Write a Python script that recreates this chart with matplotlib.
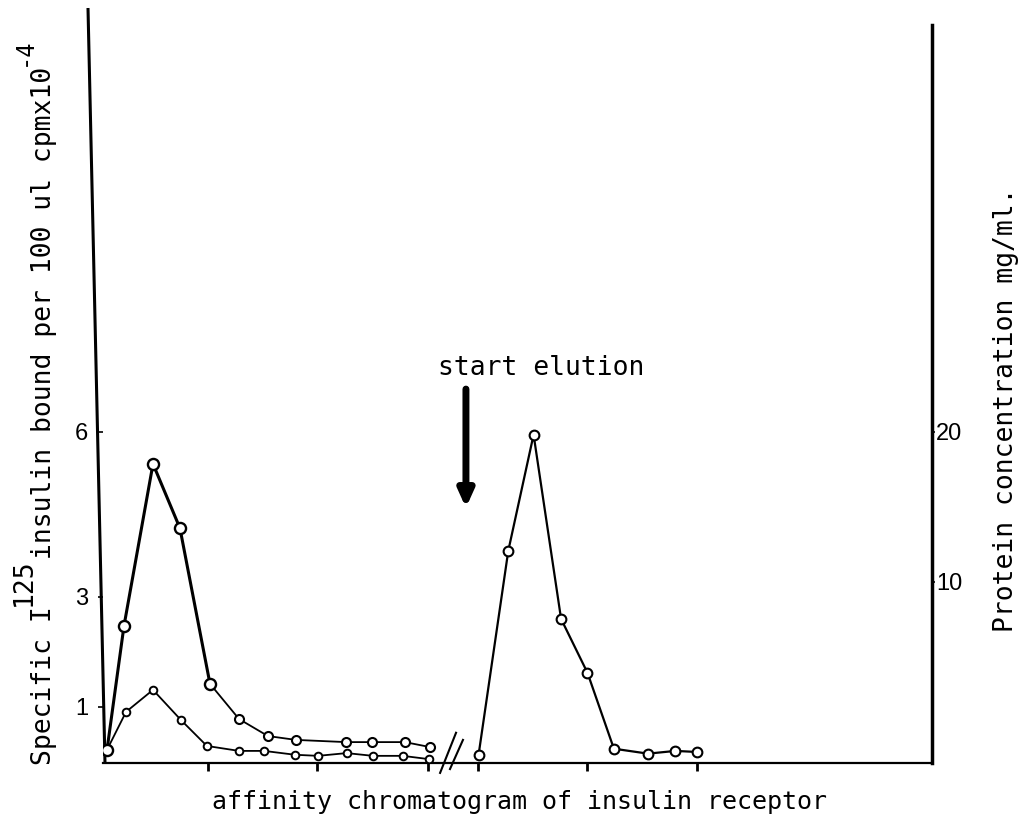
import matplotlib
matplotlib.use("Agg")
import matplotlib.pyplot as plt

# ---------------- data ----------------
# fraction positions in axis units (tick marks every 10 units)
x_protein_wash = [0.82, 2.36, 5.0, 7.45, 10.18, 12.82, 15.45, 18.0, 22.55, 24.9, 27.9, 30.18]
y_protein_wash = [0.22, 2.47, 5.42, 4.25, 1.42, 0.78, 0.47, 0.40, 0.36, 0.36, 0.36, 0.27]

x_insulin_wash = [0.82, 2.55, 5.0, 7.55, 9.9, 12.82, 15.1, 17.9, 20.0, 22.6, 25.0, 27.7, 30.1]
y_insulin_wash = [0.22, 0.91, 1.31, 0.76, 0.29, 0.20, 0.20, 0.13, 0.11, 0.16, 0.11, 0.11, 0.05]

x_elution = [34.6, 37.3, 39.6, 42.1, 44.5, 46.9, 50.0, 52.5, 54.5]
y_elution = [0.13, 3.84, 5.95, 2.60, 1.62, 0.24, 0.15, 0.20, 0.18]

x_ticks = [10, 19.9, 30, 34.55, 44.45, 54.45]
left_ticks = [1, 3, 6]
left_tick_labels = ["1", "3", "6"]
right_ticks = [10, 20]
right_tick_labels = ["10", "20"]

elution_x = 33.45
elution_y_tail = 6.78
elution_y_tip = 4.62
elution_label = "start elution"
elution_label_xy = (30.9, 7.04)

xlabel = "affinity chromatogram of insulin receptor"
ylabel_right = "Protein concentration mg/ml."
ylabel_left_parts = [("Specific I", 0), ("125", 1), ("insulin bound per 100 ul cpmx10", 0), ("-4", 1)]

# ---------------- figure ----------------
W, H = 1022, 826
fig = plt.figure(figsize=(W / 100, H / 100), dpi=100)
ax = fig.add_axes([103 / W, 63 / H, 829 / W, 755 / H])
ax.set_xlim(0.4545, 75.82)
ax.set_ylim(-0.02, 13.71)

MONO = "DejaVu Sans Mono"
SANS = "Liberation Sans"

# protein (upper) curve: heavy peak part, lighter tail
n_heavy = 5
ax.plot(x_protein_wash[n_heavy - 1:], y_protein_wash[n_heavy - 1:], color="black",
        lw=1.3, marker="o", ms=6.5, mfc="white", mec="black", mew=1.5, zorder=3)
ax.plot(x_protein_wash[:n_heavy], y_protein_wash[:n_heavy], color="black", lw=2.2,
        marker="o", ms=8, mfc="white", mec="black", mew=1.7, zorder=4)
ax.plot(x_insulin_wash, y_insulin_wash, color="black", lw=1.3, marker="o",
        ms=5.5, mfc="white", mec="black", mew=1.4, zorder=3)
ax.plot(x_elution, y_elution, color="black", lw=1.6, marker="o",
        ms=7.0, mfc="white", mec="black", mew=1.5, zorder=3)

# spines
for s in ["top", "right", "left"]:
    ax.spines[s].set_visible(False)
ax.spines["bottom"].set_linewidth(1.6)
# hand-drawn, slightly slanted left axis
ax.plot([0.0024, -0.0181], [0, 1], transform=ax.transAxes, color="black",
        lw=2.2, clip_on=False, solid_capstyle="butt")

ax.set_xticks(x_ticks)
ax.set_xticklabels([])
ax.tick_params(axis="x", direction="out", length=5.5, width=2.0)
ax.set_yticks(left_ticks)
ax.set_yticklabels(left_tick_labels, fontsize=17, family=SANS)
ax.tick_params(axis="y", direction="out", length=3.5, width=1.2, pad=7)

# axis break marks
ax.plot([31.1, 32.55], [-0.2, 0.53], color="black", lw=1.5, clip_on=False)
ax.plot([32.0, 33.18], [-0.13, 0.40], color="black", lw=1.5, clip_on=False)

# arrow and its label
ax.annotate("", xy=(elution_x, elution_y_tip), xytext=(elution_x, elution_y_tail),
            arrowprops=dict(arrowstyle="-|>,head_width=0.45,head_length=1.0",
                            lw=5, color="black", shrinkA=0, shrinkB=0))
ax.text(elution_label_xy[0], elution_label_xy[1], elution_label, family=MONO,
        fontsize=19, ha="left", va="baseline")

# right axis
ax2 = ax.twinx()
ax2.set_ylim(-2.07, 48.27)
for s in ["top", "left", "bottom"]:
    ax2.spines[s].set_visible(False)
ax2.spines["right"].set_linewidth(2.5)
ax2.spines["right"].set_bounds(-2.07, 47.13)
ax2.set_yticks(right_ticks)
ax2.set_yticklabels(right_tick_labels, fontsize=17, family=SANS)
ax2.tick_params(axis="y", direction="out", length=2, width=1.2, pad=1)

# x label
fig.text(212 / W, 1 - 809 / H, xlabel, family=MONO, fontsize=18,
         ha="left", va="baseline")

# right y label
fig.text(1013 / W, 1 - 632 / H, ylabel_right, family=MONO, fontsize=19,
         rotation=90, rotation_mode="anchor", ha="left", va="baseline")

# left y label assembled from pieces (full-size superscripts as in the typescript)
fig.canvas.draw()
r = fig.canvas.get_renderer()
y_disp = H - 765
for txt, sup in ylabel_left_parts:
    xb = 31 if sup else 51
    fs = 17 if (sup and txt == "-4") else 19
    t = fig.text(xb / W, y_disp / H, txt, family=MONO, fontsize=fs,
                 rotation=90, rotation_mode="anchor", ha="left", va="baseline")
    bb = t.get_window_extent(r)
    y_disp = bb.y1

fig.savefig("out.png", dpi=100)
